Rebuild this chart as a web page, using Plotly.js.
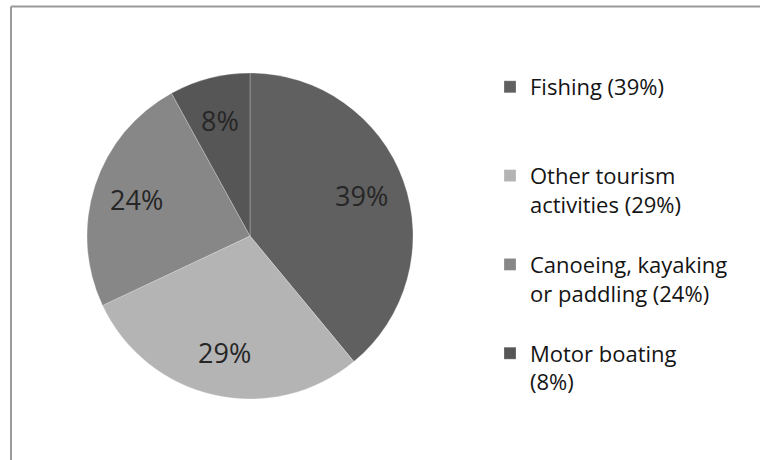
<!DOCTYPE html>
<html>
<head>
<meta charset="utf-8">
<script src="https://cdn.plot.ly/plotly-3.0.1.min.js"></script>
<style>
html,body{margin:0;padding:0;background:#fff;}
#chart{width:760px;height:460px;}
</style>
</head>
<body>
<div id="chart"></div>
<script>
var categories = ["Fishing", "Other tourism activities", "Canoeing, kayaking or paddling", "Motor boating"];
var values = [39, 29, 24, 8];
var legendLabels = ["Fishing (39%)<br> <br> ", "Other tourism<br>activities (29%)<br> ", "Canoeing, kayaking<br>or paddling (24%)<br> ", "Motor boating<br>(8%)<br> "];
var colors = ["#606060", "#b4b4b4", "#878787", "#565656"];

var W = 760, H = 460;
var cx = 250, cy = 236, r = 163;
var labelRadius = 0.73;

var trace = {
  type: "pie",
  labels: legendLabels,
  values: values,
  customdata: categories,
  sort: false,
  direction: "clockwise",
  rotation: 0,
  marker: {colors: colors, line: {color: "rgba(255,255,255,0.25)", width: 1}},
  textinfo: "none",
  hoverinfo: "none",
  domain: {x: [(cx - r) / W, (cx + r) / W], y: [(H - cy - r) / H, (H - cy + r) / H]}
};

// slice labels placed at each slice's mid-angle, derived from the values
var total = values.reduce(function (a, b) { return a + b; }, 0);
var annotations = [];
var cum = 0;
values.forEach(function (v) {
  var mid = (cum + v / 2) / total * 2 * Math.PI; // clockwise from 12 o'clock
  cum += v;
  var px = cx + labelRadius * r * Math.sin(mid);
  var py = cy - labelRadius * r * Math.cos(mid);
  annotations.push({
    xref: "paper", yref: "paper",
    x: px / W, y: 1 - py / H,
    xanchor: "center", yanchor: "middle",
    showarrow: false,
    text: v + "%",
    font: {family: "Open Sans, sans-serif", size: 27, color: "#262626"}
  });
});

var layout = {
  width: W, height: H,
  margin: {l: 0, r: 0, t: 0, b: 0},
  paper_bgcolor: "#ffffff",
  showlegend: true,
  legend: {
    x: 490 / W, xanchor: "left",
    y: 1 - 66 / H, yanchor: "top",
    valign: "top",
    font: {family: "Open Sans, sans-serif", size: 22, color: "#141414"},
    bgcolor: "rgba(0,0,0,0)",
    borderwidth: 0
  },
  annotations: annotations,
  shapes: [
    {type: "line", xref: "paper", yref: "paper", x0: 11 / W, x1: 1.01, y0: 1 - 6.5 / H, y1: 1 - 6.5 / H, line: {color: "#9a9a9a", width: 2}},
    {type: "line", xref: "paper", yref: "paper", x0: 11 / W, x1: 11 / W, y0: 1 - 6.5 / H, y1: -0.01, line: {color: "#9a9a9a", width: 2}}
  ]
};

Plotly.newPlot("chart", [trace], layout, {displayModeBar: false, staticPlot: true});
</script>
</body>
</html>
